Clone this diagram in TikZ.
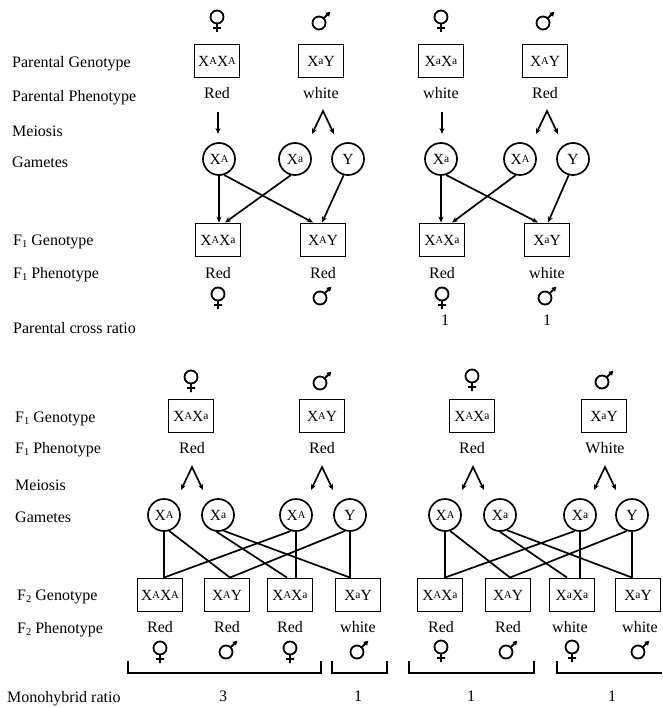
\documentclass[tikz,border=0pt]{standalone}
\usepackage{fontspec}
\setmainfont{Liberation Serif}
\usetikzlibrary{arrows.meta,calc}

% alleles: X with a raised small A (dominant) or a (recessive)
\newcommand{\alA}{X\raisebox{0.28ex}{\fontsize{10.5}{10}\selectfont A}}
\newcommand{\ala}{X\raisebox{0.25ex}{\fontsize{11.5}{11}\selectfont a}}
% filial generation with lowered index
\newcommand{\gen}[1]{F\raisebox{-0.4ex}{\fontsize{10.5}{10}\selectfont #1}}

\begin{document}
\begin{tikzpicture}[x=1pt, y=-1pt,
  font=\fontsize{16}{18}\selectfont,
  geno/.style={draw, line width=1.9pt, minimum width=45pt, minimum height=33pt,
    inner sep=0pt, font=\fontsize{15.5}{17}\selectfont},
  gam/.style={draw, circle, line width=1.7pt, minimum size=32pt, inner sep=0pt,
    font=\fontsize{15.5}{17}\selectfont},
  rowlabel/.style={anchor=base west, inner sep=0pt},
  txt/.style={anchor=base, inner sep=0pt},
  link/.style={line width=1.7pt},
  arr/.style={link, -{Stealth[length=6pt,width=5pt]}},
  female/.pic={\draw[line width=1.8pt] (0,0) circle[radius=6.5]
      (0,6.5) -- (0,15) (-4,11) -- (4,11);},
  male/.pic={\draw[line width=1.8pt] (0,0) circle[radius=6.5];
    \draw[line width=1.8pt, -{Triangle[length=4.5pt,width=5pt]}] (-45:6.5) -- (-45:16);},
  meiodown/.pic={\draw[arr] (0,0) -- (0,22);},
  meiosplit/.pic={\draw[link, {Stealth[length=6pt,width=5pt]}-{Stealth[length=6pt,width=5pt]}]
      (-11,23) -- (0,0) -- (11,23);}
]
\fill[white] (0,0) rectangle (662,708);
\useasboundingbox (0,0) rectangle (662,708);

% ---------- row labels ----------
\node[rowlabel] (l1)  at (12,68)  {Parental Genotype};
\node[rowlabel] (l2)  at (12,102) {Parental Phenotype};
\node[rowlabel] (l3)  at (12,137) {Meiosis};
\node[rowlabel] (l4)  at (12,168) {Gametes};
\node[rowlabel] (l5)  at (13,245) {\gen{1} Genotype};
\node[rowlabel] (l6)  at (13,278) {\gen{1} Phenotype};
\node[rowlabel] (l7)  at (13,333) {Parental cross ratio};
\node[rowlabel] (l8)  at (15,422) {\gen{1} Genotype};
\node[rowlabel] (l9)  at (15,453) {\gen{1} Phenotype};
\node[rowlabel] (l10) at (15,490) {Meiosis};
\node[rowlabel] (l11) at (15,522) {Gametes};
\node[rowlabel] (l12) at (17,600) {\gen{2} Genotype};
\node[rowlabel] (l13) at (17,633) {\gen{2} Phenotype};
\node[rowlabel] (l14) at (7,702)  {Monohybrid ratio};

% ---------- parental crosses ----------
\pic at (217,17) {female};  \pic at (319,23) {male};
\pic at (441,17) {female};  \pic at (543,23) {male};

\node[geno] (pA) at (217,61) {\alA\alA};
\node[geno] (pB) at (321,61) {\ala Y};
\node[geno] (pC) at (441,61) {\ala\ala};
\node[geno] (pD) at (545,61) {\alA Y};

\node[txt] (ppA) at (217,99) {Red};
\node[txt] (ppB) at (321,99) {white};
\node[txt] (ppC) at (441,99) {white};
\node[txt] (ppD) at (545,99) {Red};

\pic at (218,112) {meiodown};  \pic at (323,111) {meiosplit};
\pic at (442,112) {meiodown};  \pic at (547,111) {meiosplit};

\node[gam] (gA) at (219,159) {\alA};
\node[gam] (ga) at (295,159) {\ala};
\node[gam] (gY) at (348,159) {Y};
\node[gam] (ha) at (441,159) {\ala};
\node[gam] (hA) at (520,159) {\alA};
\node[gam] (hY) at (573,159) {Y};

\node[geno] (fA) at (218,240) {\alA\ala};
\node[geno] (fB) at (323,240) {\alA Y};
\node[geno] (fC) at (442,240) {\alA\ala};
\node[geno] (fD) at (547,240) {\ala Y};

\draw[arr] (gA.south) -- (gA.south |- fA.north);
\draw[arr] (gA.288) -- ($(fB.north)+(-10,0)$);
\draw[arr] (ga.255) -- ($(fA.north)+(7,0)$);
\draw[arr] (gY.255) -- ($(fB.north)+(-1,0)$);
\draw[arr] (ha.south) -- (ha.south |- fC.north);
\draw[arr] (ha.288) -- ($(fD.north)+(-9,0)$);
\draw[arr] (hA.255) -- ($(fC.north)+(10,0)$);
\draw[arr] (hY.255) -- ($(fD.north)+(1,0)$);

\node[txt] (fpA) at (218,278) {Red};
\node[txt] (fpB) at (323,278) {Red};
\node[txt] (fpC) at (442,278) {Red};
\node[txt] (fpD) at (547,278) {white};

\pic at (218,294) {female};  \pic at (320,298) {male};
\pic at (442,294) {female};  \pic at (545,298) {male};

\node[txt] (rC) at (445,325) {1};
\node[txt] (rD) at (547,325) {1};

% ---------- F1 crosses ----------
\pic at (191,377) {female};  \pic at (320,383) {male};
\pic at (472,376) {female};  \pic at (602,382) {male};

\node[geno] (qA) at (191,416) {\alA\ala};
\node[geno] (qB) at (322,416) {\alA Y};
\node[geno] (qC) at (472,416) {\alA\ala};
\node[geno] (qD) at (604,416) {\ala Y};

\node[txt] (qpA) at (192,453) {Red};
\node[txt] (qpB) at (322,453) {Red};
\node[txt] (qpC) at (472,453) {Red};
\node[txt] (qpD) at (605,453) {White};

\pic at (192,467) {meiosplit};  \pic at (322,467) {meiosplit};
\pic at (473,467) {meiosplit};  \pic at (605,467) {meiosplit};

\node[gam] (kA)  at (164,515) {\alA};
\node[gam] (ka)  at (218,515) {\ala};
\node[gam] (kA2) at (296,515) {\alA};
\node[gam] (kY)  at (350,515) {Y};
\node[gam] (mA)  at (445,515) {\alA};
\node[gam] (ma)  at (500,515) {\ala};
\node[gam] (ma2) at (580,515) {\ala};
\node[gam] (mY)  at (632,515) {Y};

\node[geno] (s1) at (160,595) {\alA\alA};
\node[geno] (s2) at (227,595) {\alA Y};
\node[geno] (s3) at (290,595) {\alA\ala};
\node[geno] (s4) at (358,595) {\ala Y};
\node[geno] (t1) at (440,595) {\alA\ala};
\node[geno] (t2) at (508,595) {\alA Y};
\node[geno] (t3) at (572,595) {\ala\ala};
\node[geno] (t4) at (638,595) {\ala Y};

% gamete combinations, first cross
\draw[link] (kA.south) -- (kA.south |- s1.north);
\draw[link] (kA.288) -- ($(s2.north)+(3,0)$);
\draw[link] (ka.265) -- ($(s3.north)+(-3,0)$);
\draw[link] (ka.290) -- (kY.south |- s4.north);
\draw[link] (kA2.252) -- (kA.south |- s1.north);
\draw[link] (kA2.south) -- (kA2.south |- s3.north);
\draw[link] (kY.252) -- ($(s2.north)+(3,0)$);
\draw[link] (kY.south) -- (kY.south |- s4.north);

% gamete combinations, second cross
\draw[link] (mA.south) -- (mA.south |- t1.north);
\draw[link] (mA.288) -- ($(t2.north)+(2,0)$);
\draw[link] (ma.270) -- ($(t3.north)+(-5,0)$);
\draw[link] (ma.295) -- (mY.south |- t4.north);
\draw[link] (ma2.252) -- (mA.south |- t1.north);
\draw[link] (ma2.south) -- (ma2.south |- t3.north);
\draw[link] (mY.252) -- ($(t2.north)+(2,0)$);
\draw[link] (mY.south) -- (mY.south |- t4.north);

\node[txt] (spA) at (160,632) {Red};
\node[txt] (spB) at (227,632) {Red};
\node[txt] (spC) at (290,632) {Red};
\node[txt] (spD) at (358,632) {white};
\node[txt] (tpA) at (441,632) {Red};
\node[txt] (tpB) at (508,632) {Red};
\node[txt] (tpC) at (570,632) {white};
\node[txt] (tpD) at (640,632) {white};

\pic at (160,648) {female};  \pic at (226,652) {male};
\pic at (290,648) {female};  \pic at (357,652) {male};
\pic at (441,647) {female};  \pic at (506,652) {male};
\pic at (572,647) {female};  \pic at (638,652) {male};

% grouping brackets
\draw[link] (128,661) -- (128,673) -- (321,673) -- (321,661);
\draw[link] (332,661) -- (332,673) -- (387,673) -- (387,661);
\draw[link] (409,661) -- (409,673) -- (534,673) -- (534,661);
\draw[link] (557,661) -- (557,673) -- (662,673);

\node[txt] (n1) at (223,701) {3};
\node[txt] (n2) at (358,701) {1};
\node[txt] (n3) at (471,701) {1};
\node[txt] (n4) at (612,701) {1};
\end{tikzpicture}
\end{document}
